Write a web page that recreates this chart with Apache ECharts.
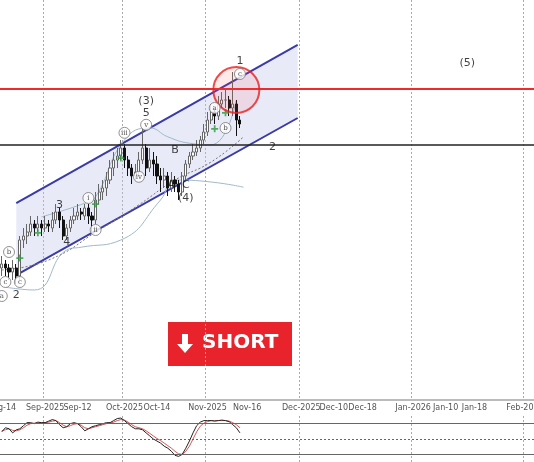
<!DOCTYPE html>
<html>
<head>
<meta charset="utf-8">
<script src="https://cdn.jsdelivr.net/npm/echarts@6/dist/echarts.min.js"></script>
<style>html,body{margin:0;padding:0;background:#fff}#main{width:534px;height:462px}</style>
</head>
<body>
<div id="main"></div>
<script>
// candles: [open, close, low, high], one per trading day from 2025-08-14
var candles = [
  [133,134,131,136],[134,133,131,135],[133,132,130,134],[132,133,130,135],[133,131,129,134],
  [131,140,130,141],[140,141,138,143],[141,142,139,144],[142,144,141,146],[144,143,141,145],
  [143,144,142,146],[144,143,141,145],[143,144,142,146],[144,143.5,142,145],[143,145,142,147],
  [145,147,144,149],[147,145,143,148],[145,141,140,146],[141,143,140,144],[143,145,142,146],
  [145,146,144,148],[146,147,145,149],[147,146.5,145,148],[146,148,145,149],[148,146,144,149],
  [146,145,142,147],[145,150,144,152],[150,152,149,154],[152,153,150,155],[153,155,151,157],
  [155,158,154,160],[158,160,156,162],[160,161,158,163],[161,163,160,165],[163,160,158,164],
  [160,158,156,161],[158,156,154,159],[156,157,155,159],[157,160,156,162],[160,163,159,168],
  [163,158,156,164],[158,160,157,163],[160,159,156,162],[159,156,154,161],[156,155,152,158],
  [155,156,153,158],[156,153,151,157],[153,155,152,157],[155,154,152,156],[154,152,150,155],
  [152,156,151,157],[156,159,155,160],[159,161,158,162],[161,162,160,164],[162,163,161,165],
  [163,165,162,166],[165,167,164,169],[167,170,166,172],[170,172,169,174],[172,171,169,173],
  [171,174,170,176],[174,175,173,177],[175,175,173,178],[175,173,171,176],[173,174,171,182],
  [174,170,166,175],[170,169,168,171]
];
var upperBand = [[11.4,145.8],[22.6,149.2],[26.4,150.8],[33.7,165],[41,168],[46,165.8],[51.5,164.2],[57.8,163.8],[64.7,175]];
var lowerBand = [[1.4,128.2],[8.7,127.5],[18,137.5],[21.7,138.2],[32.8,140],[44,150],[47.6,155],[57.8,154.5],[67,153.2]];
var midBand = [[0,132.5],[13.4,135],[27.3,142.5],[38.4,148.8],[48,155],[57.8,159.5],[67,165.8]];
var channelUpper = [[4.2,149.2],[82,188.8]];
var channelLower = [[4.2,131.2],[82,170.5]];
var resistance = 177.8;
var support = 163.8;
var plusMarks = [[4.5,135.5],[9.5,141.8],[25.6,149],[33.1,160.5],[59.2,167.8],[62.3,171.8]];
var waveLabels = [
  [0.3,126,'a',1],[0.9,129.5,'c',1],[1.5,137,'b',1],[4.5,129.5,'c',1],[4.2,126.3,'2',0],
  [15.6,148.8,'3',0],[18.4,139.5,'4',0],[23.7,150.5,'i',1],[25.9,142.5,'ii',1],
  [33.9,166.8,'iii',1],[37.6,155.8,'iv',1],[40,168.8,'v',1],[40,171.8,'5',0],[40,174.8,'(3)',0],
  [48.1,162.5,'B',0],[47,153.8,'A',0],[51,153.8,'C',0],[51.2,150.5,'(4)',0],
  [59.2,173,'a',1],[62.3,168,'b',1],[66.2,181.5,'c',1],[66.2,184.8,'1',0],[75,163.3,'2',0],
  [129,184.3,'(5)',0]
];
var oscFast = [64,72,70,62,68,70,76,82,82,80,83,82,82,85,88,86,78,72,74,80,82,80,74,66,70,74,76,78,80,82,82,86,90,91,86,80,74,70,70,68,62,56,50,46,42,36,32,26,18,16,20,32,46,62,76,83,86,86,86,85,86,87,86,84,78,72,62];
var oscSlow = [66,68,70,67,66,68,72,77,80,81,81,82,82,83,85,86,82,77,74,76,79,80,77,72,70,72,74,76,78,80,81,83,86,88,87,83,78,74,72,70,66,61,56,51,47,42,37,32,26,21,20,26,36,50,64,75,81,84,86,86,86,86,86,85,82,78,72];
var monthStarts = ['2025-09-01','2025-10-01','2025-11-03','2025-12-01','2026-01-01','2026-02-01'];
var tickDates = ['2025-08-14','2025-09-01','2025-09-12','2025-10-01','2025-10-14','2025-11-03','2025-11-16',
  '2025-12-01','2025-12-10','2025-12-18','2026-01-01','2026-01-10','2026-01-18','2026-02-01'];

// category axis: trading days for history, calendar days for the projection
var dates = [];
var d = new Date(Date.UTC(2025,7,14));
function ds(x){ return x.toISOString().slice(0,10); }
while (dates.length < candles.length) {
  var wd = d.getUTCDay();
  if (wd !== 0 && wd !== 6) dates.push(ds(d));
  d.setUTCDate(d.getUTCDate()+1);
}
d = new Date(Date.UTC(2025,10,15));
while (dates.length < 148) { dates.push(ds(d)); d.setUTCDate(d.getUTCDate()+1); }

var MON = ['Jan','Feb','Mar','Apr','May','Jun','Jul','Aug','Sep','Oct','Nov','Dec'];
function fmt(v){
  var p = v.split('-');
  var m = MON[+p[1]-1];
  return monthStarts.indexOf(v) >= 0 ? m + '-' + p[0] : m + '-' + p[2];
}

var chart = echarts.init(document.getElementById('main'));
var xBase = {
  type: 'category', data: dates, boundaryGap: true,
  axisTick: {show: false},
  splitLine: {show: true, interval: function(i, v){ return monthStarts.indexOf(v) >= 0; },
    lineStyle: {color: '#aaa', type: [2,2]}}
};
var option = {
  animation: false,
  grid: [
    {left: 0, right: 0, top: 0, height: 400, outerBoundsMode: 'none', containLabel: false},
    {left: 0, right: 0, top: 416, bottom: 0, outerBoundsMode: 'none', containLabel: false}
  ],
  xAxis: [
    Object.assign({}, xBase, {gridIndex: 0,
      axisLine: {show: true, lineStyle: {color: '#bbb', width: 2}},
      axisLabel: {interval: function(i, v){ return tickDates.indexOf(v) >= 0; }, hideOverlap: false,
        formatter: fmt, fontSize: 8, color: '#555', margin: 4, fontFamily: 'DejaVu Sans'}}),
    Object.assign({}, xBase, {gridIndex: 1,
      axisLine: {show: true, lineStyle: {color: '#888'}}, axisLabel: {show: false}})
  ],
  yAxis: [
    {gridIndex: 0, type: 'value', min: 100, max: 200, show: false, splitLine: {show: false}},
    {gridIndex: 1, type: 'value', min: 5, max: 95, show: false, splitLine: {show: false}}
  ],
  series: [
    {
      type: 'custom', xAxisIndex: 0, yAxisIndex: 0, data: [0], silent: true, z: 1,
      renderItem: function(params, api){
        var pts = [channelUpper[0], channelUpper[1], channelLower[1], channelLower[0]].map(function(p){ return api.coord(p); });
        return {type: 'polygon', shape: {points: pts}, style: {fill: 'rgba(190,195,235,0.35)'}};
      }
    },
    {type: 'line', data: channelUpper, symbol: 'none', lineStyle: {color: '#3a3aa8', width: 2}, z: 3},
    {type: 'line', data: channelLower, symbol: 'none', lineStyle: {color: '#3a3aa8', width: 2}, z: 3},
    {type: 'line', data: upperBand, symbol: 'none', smooth: true, lineStyle: {color: '#9fb8c8', width: 1}},
    {type: 'line', data: lowerBand, symbol: 'none', smooth: true, lineStyle: {color: '#9fb8c8', width: 1}},
    {type: 'line', data: midBand, symbol: 'none', smooth: true, lineStyle: {color: '#777', width: 1, type: [2,2]},
      markLine: {symbol: 'none', silent: true, label: {show: false},
        data: [{yAxis: resistance, lineStyle: {color: '#ee2b2b', width: 2, type: 'solid'}},
               {yAxis: support, lineStyle: {color: '#222', width: 1.5, type: 'solid'}}]}},
    {
      type: 'candlestick', data: candles, barWidth: 2.6, z: 4,
      itemStyle: {color: '#fff', color0: '#111', borderColor: '#666', borderColor0: '#111', borderWidth: 1}
    },
    {type: 'scatter', data: plusMarks, symbol: 'path://M3,0H5V3H8V5H5V8H3V5H0V3H3Z', symbolSize: 7,
      itemStyle: {color: '#2e9a3a'}, z: 5},
    {type: 'scatter', data: [[64.5,177.5]], symbolSize: 46, z: 6,
      itemStyle: {color: 'rgba(255,80,80,0.15)', borderColor: '#e82020', borderWidth: 2}},
    {type: 'scatter', z: 7,
      data: waveLabels.filter(function(w){ return w[3]; }).map(function(w){ return {value: [w[0], w[1]], name: w[2]}; }),
      symbolSize: 11, itemStyle: {color: '#fff', borderColor: '#777', borderWidth: 1},
      label: {show: true, position: 'inside', formatter: '{b}', fontSize: 7, color: '#222', fontFamily: 'DejaVu Serif'}},
    {type: 'scatter', z: 7,
      data: waveLabels.filter(function(w){ return !w[3]; }).map(function(w){ return {value: [w[0], w[1]], name: w[2]}; }),
      symbolSize: 1, itemStyle: {color: 'transparent'},
      label: {show: true, position: 'inside', formatter: '{b}', fontSize: 11, color: '#111', fontFamily: 'DejaVu Sans'}},
    {type: 'line', xAxisIndex: 1, yAxisIndex: 1, data: oscSlow, symbol: 'none', lineStyle: {color: '#d45555', width: 1},
      markLine: {symbol: 'none', silent: true, label: {show: false},
        data: [{yAxis: 80, lineStyle: {color: '#666', width: 1, type: 'solid'}},
               {yAxis: 50, lineStyle: {color: '#666', width: 1, type: [2,2]}},
               {yAxis: 20, lineStyle: {color: '#666', width: 1, type: 'solid'}}]}},
    {type: 'line', xAxisIndex: 1, yAxisIndex: 1, data: oscFast, symbol: 'none', lineStyle: {color: '#222', width: 1}}
  ],
  graphic: [{
    type: 'group', left: 168, top: 322,
    children: [
      {type: 'rect', shape: {x: 0, y: 0, width: 124, height: 44}, style: {fill: '#e8232b'}},
      {type: 'polygon', shape: {points: [[14,12],[20,12],[20,22],[25,22],[17,31],[9,22],[14,22]]}, style: {fill: '#fff'}},
      {type: 'text', x: 34, y: 11, style: {text: 'SHORT', fill: '#fff', font: 'bold 20px "DejaVu Sans"'}}
    ]
  }]
};
chart.setOption(option);
</script>
</body>
</html>
